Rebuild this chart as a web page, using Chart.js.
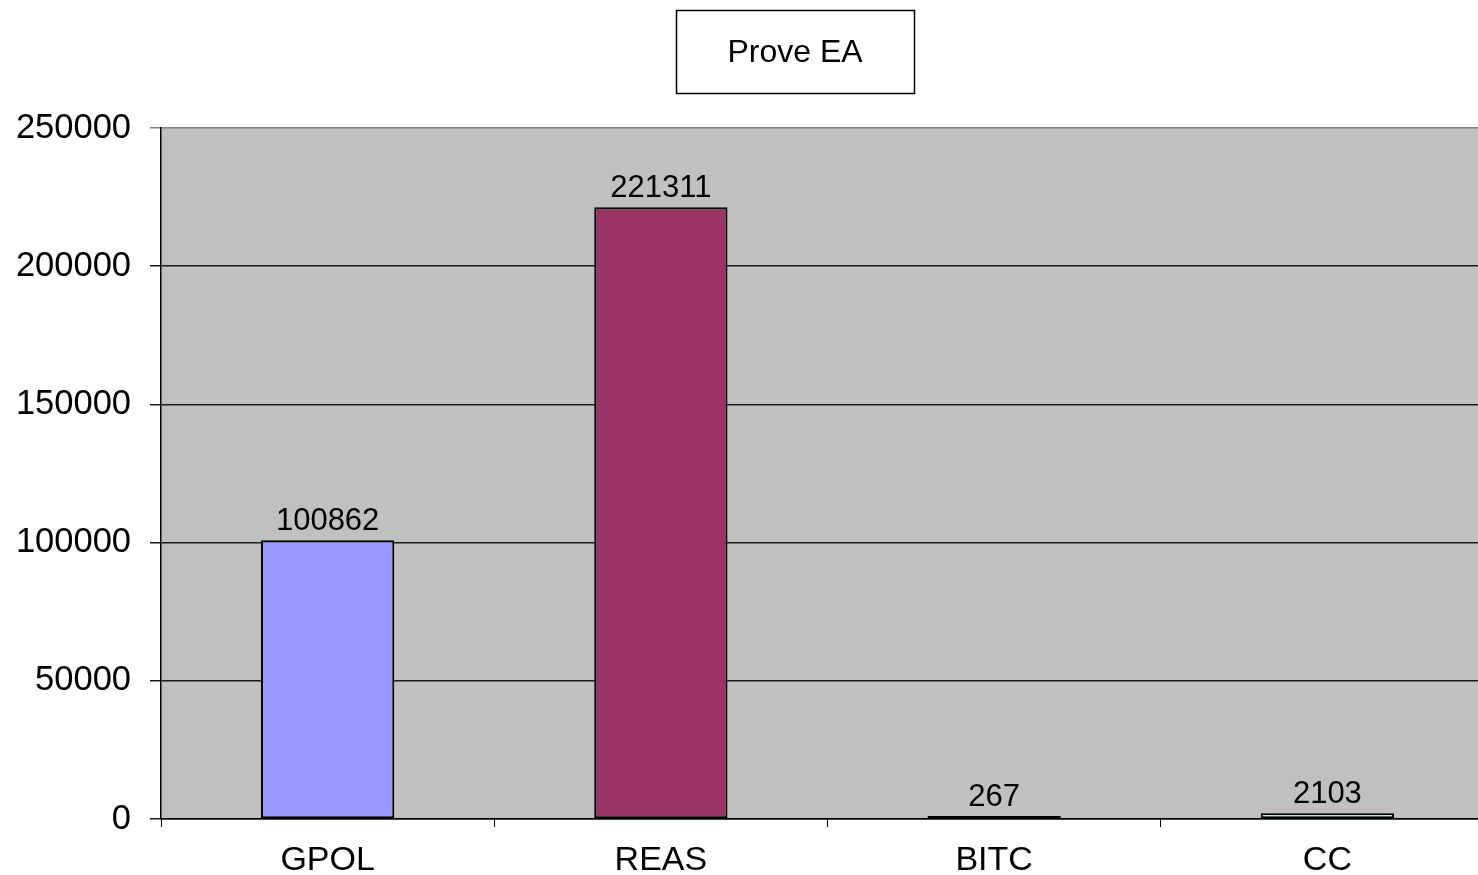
<!DOCTYPE html>
<html>
<head>
<meta charset="utf-8">
<script src="https://cdn.jsdelivr.net/npm/chart.js@4"></script>
<style>
  html, body { margin: 0; padding: 0; background: #fff; overflow: hidden; }
  #wrap { width: 1494px; height: 875px; position: relative; }
</style>
</head>
<body>
<div id="wrap"><canvas id="myChart"></canvas></div>
<script>
// data
var categories = ['GPOL', 'REAS', 'BITC', 'CC'];
var values = [100862, 221311, 267, 2103];
var barColors = ['#9999FF', '#993366', '#FFFFCC', '#CCFFFF'];
var yTicks = [0, 50000, 100000, 150000, 200000, 250000];
var chartTitle = 'Prove EA';

var FONT = '"Liberation Sans", Arial, sans-serif';

// grey plot area
var plotBackground = {
    id: 'plotBackground',
    beforeDraw: function(chart) {
        var a = chart.chartArea;
        var ctx = chart.ctx;
        ctx.save();
        ctx.fillStyle = '#C0C0C0';
        ctx.fillRect(a.left, a.top, a.right - a.left, a.bottom - a.top);
        ctx.restore();
    }
};

// value above each bar
var barLabels = {
    id: 'barLabels',
    afterDatasetsDraw: function(chart) {
        var ctx = chart.ctx;
        var meta = chart.getDatasetMeta(0);
        ctx.save();
        ctx.font = '31px ' + FONT;
        ctx.fillStyle = '#000';
        ctx.textAlign = 'center';
        ctx.textBaseline = 'alphabetic';
        meta.data.forEach(function(bar, i) {
            ctx.fillText(String(values[i]), bar.x, bar.y - 10);
        });
        ctx.restore();
    }
};

// boxed title
var boxedTitle = {
    id: 'boxedTitle',
    afterDraw: function(chart) {
        var ctx = chart.ctx;
        ctx.save();
        ctx.strokeStyle = '#000';
        ctx.lineWidth = 1.5;
        ctx.strokeRect(676.5, 10.5, 238, 83);
        ctx.font = '32px ' + FONT;
        ctx.fillStyle = '#000';
        ctx.textAlign = 'center';
        ctx.textBaseline = 'middle';
        ctx.fillText(chartTitle, 795, 53);
        ctx.restore();
    }
};

var ctx = document.getElementById('myChart');

var data = {
    labels: categories,
    datasets: [{
        data: values,
        backgroundColor: barColors,
        borderColor: '#000',
        borderWidth: 2,
        borderSkipped: false,
        minBarLength: 3,
        barPercentage: 0.4,
        categoryPercentage: 1.0
    }]
};

var config = {
    type: 'bar',
    data: data,
    options: {
        responsive: true,
        maintainAspectRatio: false,
        animation: false,
        layout: { padding: { top: 128, right: 0, left: 0, bottom: 0 } },
        plugins: {
            legend: { display: false },
            title: { display: false },
            tooltip: { enabled: false }
        },
        scales: {
            x: {
                offset: true,
                grid: {
                    offset: true,
                    drawOnChartArea: false,
                    drawTicks: true,
                    tickLength: 8,
                    color: '#000'
                },
                border: { display: true, color: '#000', width: 1.5 },
                ticks: {
                    color: '#000',
                    font: { family: FONT, size: 34 },
                    padding: 13,
                    maxRotation: 0
                },
                afterFit: function(scale) { scale.height = 56; }
            },
            y: {
                min: 0,
                max: 250000,
                afterBuildTicks: function(scale) {
                    scale.ticks = yTicks.map(function(v) { return { value: v }; });
                },
                grid: {
                    color: function(c) {
                        return c.tick && c.tick.value === 250000 ? '#808080' : '#1a1a1a';
                    },
                    lineWidth: 1.5,
                    drawTicks: true,
                    tickLength: 11
                },
                border: { display: true, color: '#000', width: 1.5 },
                ticks: {
                    color: '#000',
                    font: { family: FONT, size: 34.5 },
                    padding: 19,
                    callback: function(v) { return String(v); }
                },
                afterFit: function(scale) { scale.width = 161; }
            }
        }
    },
    plugins: [plotBackground, barLabels, boxedTitle]
};

var myChart = new Chart(ctx, config);
</script>
</body>
</html>
